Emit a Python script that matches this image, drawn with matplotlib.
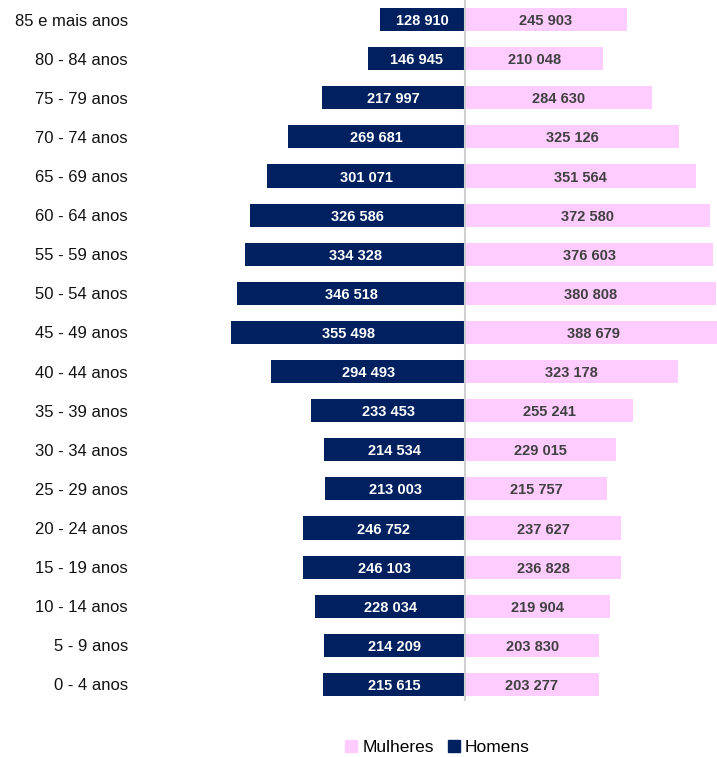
import matplotlib
matplotlib.use("Agg")
import matplotlib.pyplot as plt
from matplotlib.patches import Patch

age_groups = [
    "0 - 4 anos", "5 - 9 anos", "10 - 14 anos", "15 - 19 anos", "20 - 24 anos",
    "25 - 29 anos", "30 - 34 anos", "35 - 39 anos", "40 - 44 anos", "45 - 49 anos",
    "50 - 54 anos", "55 - 59 anos", "60 - 64 anos", "65 - 69 anos", "70 - 74 anos",
    "75 - 79 anos", "80 - 84 anos", "85 e mais anos",
]
homens = [
    215615, 214209, 228034, 246103, 246752, 213003, 214534, 233453, 294493,
    355498, 346518, 334328, 326586, 301071, 269681, 217997, 146945, 128910,
]
mulheres = [
    203277, 203830, 219904, 236828, 237627, 215757, 229015, 255241, 323178,
    388679, 380808, 376603, 372580, 351564, 325126, 284630, 210048, 245903,
]

NAVY = "#002060"
PINK = "#FFCCFF"
plt.rcParams["font.family"] = ["Liberation Sans", "DejaVu Sans"]


def fmt(v):
    return f"{v:,}".replace(",", " ")


fig = plt.figure(figsize=(7.17, 7.57), dpi=100)
ax = fig.add_axes([0.19, 0.07, 0.81, 0.93])
y = list(range(len(age_groups)))

ax.barh(y, [-v for v in homens], height=0.59, color=NAVY)
ax.barh(y, mulheres, height=0.59, color=PINK, clip_on=False)
ax.axvline(0, color="#d0d0d0", lw=1.5, ymin=0.005, ymax=1.0)

for yi, h, m in zip(y, homens, mulheres):
    ax.text(-h / 2, yi, fmt(h), ha="center", va="center_baseline", color="white",
            fontsize=10.5, fontweight="bold")
    ax.text(m / 2, yi, fmt(m), ha="center", va="center_baseline", color="#404040",
            fontsize=10.5, fontweight="bold")

ax.set_xlim(-499800, 382800)
ax.set_ylim(-0.5, 17.5)
ax.set_yticks(y, age_groups, fontsize=12, color="#111111")
ax.tick_params(axis="y", length=0, pad=6)
ax.set_xticks([])
for s in ax.spines.values():
    s.set_visible(False)

handles = [Patch(color=PINK, label="Mulheres"), Patch(color=NAVY, label="Homens")]
fig.legend(handles=handles, loc="center", bbox_to_anchor=(0.61, 0.013), ncols=2,
           frameon=False, fontsize=12.5, handlelength=0.7, handleheight=0.7,
           handletextpad=0.3, columnspacing=0.8)

fig.savefig("out.png", dpi=100)
